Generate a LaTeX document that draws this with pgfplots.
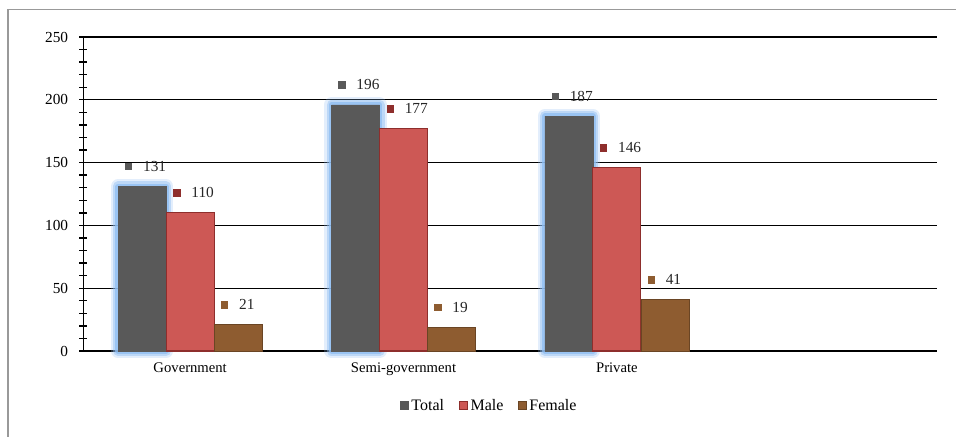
\documentclass[border=0pt]{standalone}
\usepackage{fontspec}
\setmainfont{Liberation Serif}
\usepackage{pgfplots}
\pgfplotsset{compat=1.18}
\definecolor{totc}{HTML}{595959}
\definecolor{malec}{HTML}{CD5855}
\definecolor{maledark}{HTML}{8E2E2C}
\definecolor{femc}{HTML}{8E5C30}
\definecolor{glowc}{HTML}{8FBDF2}
\newcommand{\lbl}[1]{\textcolor{#1}{\raisebox{0.8pt}{\rule{5.5pt}{5.5pt}}}\hspace{8pt}\pgfmathprintnumber{\pgfplotspointmeta}}
\begin{document}
\begin{tikzpicture}
\useasboundingbox (0,0) rectangle (717pt,327pt);
\draw[color=black!40, line width=1.1pt] (6pt,-5pt) -- (6pt,320pt) -- (725pt,320pt);
\begin{axis}[
  at={(62.6pt,63.75pt)}, anchor=south west,
  scale only axis, width=640.1pt, height=235.5pt,
  xmin=0, xmax=4, ymin=0, ymax=250,
  ybar,
  legend image code/.code={\fill[#1] (0pt,-2.4pt) rectangle (6pt,3.6pt);},
  axis lines*=left,
  axis line style={black, line width=1pt},
  ytick={0,50,...,250}, minor y tick num=4,
  ymajorgrids, grid style={black, line width=1pt},
  xtick={0.5,1.5,2.5}, xticklabels={Government,Semi-government,Private},
  x tick style={draw=none},
  y tick style={black, line width=1pt},
  tick align=center, major tick length=6pt, minor tick length=6pt,
  yticklabel style={font=\fontsize{11.5}{13}\selectfont, xshift=-5pt},
  xticklabel style={font=\fontsize{11}{13}\selectfont, yshift=-2pt},
  /pgf/number format/assume math mode=true,
  clip=false,
  bar width=36pt,
  every node near coord/.append style={anchor=west, inner sep=0pt, xshift=-13pt, yshift=15pt, font=\fontsize{11.5}{13}\selectfont, text=black!85},
  legend style={at={(0.476,-0.175)}, anchor=center, draw=none, fill=none, legend columns=3,
    font=\fontsize{12}{14}\selectfont, inner sep=0pt,
    /tikz/every odd column/.append style={column sep=0pt},
    /tikz/every even column/.append style={column sep=9pt}},
  legend cell align=left,
]
% glow behind Total bars
\addplot[forget plot, bar shift=-36pt, fill=none, draw=glowc, line width=11pt, opacity=0.25, line join=round] coordinates {(0.5,131) (1.5,196) (2.5,187)};
\addplot[forget plot, bar shift=-36pt, fill=none, draw=glowc, line width=7.5pt, opacity=0.45, line join=round] coordinates {(0.5,131) (1.5,196) (2.5,187)};
\addplot[forget plot, bar shift=-36pt, fill=none, draw=glowc, line width=4pt, opacity=0.75, line join=round] coordinates {(0.5,131) (1.5,196) (2.5,187)};
% Total
\addplot[bar shift=-36pt, fill=totc, draw=black!65, line width=0.4pt,
  nodes near coords={\lbl{totc}}] coordinates {(0.5,131) (1.5,196) (2.5,187)};
% Male
\addplot[bar shift=0pt, fill=malec, draw=maledark, line width=0.9pt,
  nodes near coords={\lbl{maledark}}] coordinates {(0.5,110) (1.5,177) (2.5,146)};
% Female
\addplot[bar shift=36pt, fill=femc, draw=femc!75!black, line width=0.4pt,
  nodes near coords={\lbl{femc}}] coordinates {(0.5,21) (1.5,19) (2.5,41)};
\legend{Total,Male,Female}
\end{axis}
\end{tikzpicture}
\end{document}
